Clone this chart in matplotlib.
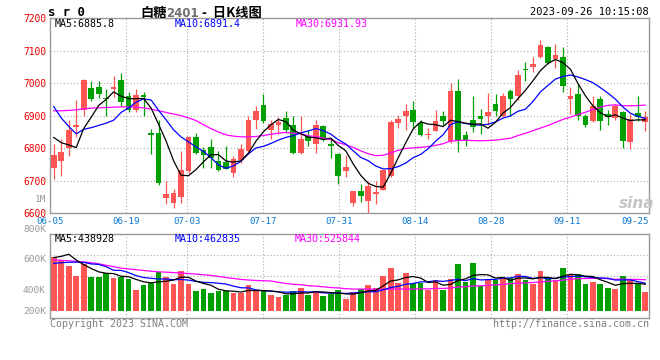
import numpy as np
import pandas as pd
import matplotlib
matplotlib.use("Agg")
import matplotlib.pyplot as plt
from matplotlib.transforms import blended_transform_factory

plt.rcParams['font.family'] = ['DejaVu Sans Mono', 'Noto Sans CJK SC']

# ---- data (sr0, 2023-06-05 .. 2023-09-26) ----
date_labels = ['06-05', '06-19', '07-03', '07-17', '07-31', '08-14', '08-28', '09-11', '09-25']
date_idx = [0, 10, 18, 28, 38, 48, 58, 68, 78]

opens = [6739, 6760, 6800, 6864, 6916, 6985, 6988, 6955, 6981, 7010,
         6961, 6916, 6964, 6847, 6847, 6647, 6633, 6650, 6729, 6835,
         6793, 6803, 6760, 6758, 6725, 6763, 6791, 6886, 6934, 6857,
         6872, 6893, 6872, 6784, 6839, 6814, 6869, 6814, 6781, 6730,
         6631, 6668, 6638, 6658, 6673, 6714, 6878, 6898, 6918, 6878,
         6842, 6852, 6900, 6821, 6977, 6842, 6888, 6898, 6898, 6937,
         6898, 6975, 6959, 7043, 7048, 7079, 7110, 7075, 7080, 6951,
         6966, 6900, 6885, 6952, 6905, 6893, 6911, 6818, 6908, 6881]
highs = [6814, 6827, 6888, 6949, 7012, 7005, 7007, 6982, 7022, 7031,
         6974, 6982, 6974, 6860, 6888, 6699, 6676, 6791, 6837, 6847,
         6804, 6827, 6791, 6806, 6776, 6814, 6900, 6929, 6966, 6888,
         6896, 6915, 6900, 6900, 6857, 6888, 6872, 6831, 6786, 6778,
         6668, 6689, 6699, 6699, 6733, 6888, 6903, 6937, 6944, 6888,
         6862, 6918, 6913, 7000, 7012, 6852, 6961, 6920, 6969, 6967,
         6969, 6983, 7041, 7064, 7079, 7133, 7114, 7120, 7112, 6988,
         6997, 6905, 6961, 6959, 6918, 6936, 6915, 6905, 6959, 6915]
lows = [6706, 6714, 6776, 6834, 6900, 6944, 6954, 6900, 6956, 6929,
        6910, 6910, 6900, 6781, 6686, 6628, 6617, 6633, 6725, 6781,
        6740, 6740, 6730, 6735, 6712, 6755, 6781, 6859, 6878, 6829,
        6845, 6847, 6781, 6783, 6808, 6784, 6821, 6770, 6689, 6712,
        6622, 6635, 6602, 6628, 6671, 6712, 6862, 6855, 6862, 6837,
        6827, 6852, 6872, 6816, 6788, 6807, 6849, 6845, 6872, 6900,
        6895, 6898, 6949, 7005, 7034, 7077, 7058, 7046, 6973, 6906,
        6888, 6864, 6881, 6857, 6871, 6888, 6801, 6799, 6885, 6852]
closes = [6778, 6787, 6857, 6872, 7008, 6952, 6967, 6951, 6987, 6941,
          6916, 6964, 6956, 6840, 6692, 6659, 6661, 6732, 6834, 6786,
          6778, 6770, 6733, 6737, 6768, 6799, 6888, 6915, 6883, 6875,
          6880, 6855, 6784, 6827, 6823, 6872, 6827, 6806, 6714, 6742,
          6668, 6653, 6684, 6665, 6732, 6880, 6891, 6913, 6880, 6842,
          6844, 6883, 6883, 6977, 6821, 6821, 6865, 6890, 6910, 6913,
          6961, 6951, 7026, 7039, 7059, 7117, 7061, 7087, 6990, 6959,
          6900, 6871, 6931, 6885, 6895, 6931, 6822, 6891, 6896, 6895]
# volume in thousands of lots
volumes = [618, 600, 562, 496, 571, 490, 490, 516, 483, 486,
           473, 402, 437, 448, 521, 490, 444, 530, 444, 397,
           411, 384, 397, 395, 384, 382, 437, 395, 393, 369,
           358, 369, 397, 417, 371, 397, 364, 375, 402, 343,
           389, 411, 435, 417, 496, 549, 446, 514, 450, 446,
           402, 468, 402, 477, 574, 457, 582, 428, 468, 468,
           479, 483, 508, 468, 440, 527, 483, 468, 549, 501,
           508, 442, 455, 442, 417, 411, 494, 468, 440, 389]

# moving-average values before enough bars are on screen
ma5_head = [6833, 6817, 6810, 6802]
ma10_head = [6928, 6893, 6867, 6844, 6858, 6863, 6870, 6877, 6886]
ma30_head = [6915, 6915, 6916, 6918, 6921, 6923, 6924, 6925, 6926, 6927,
             6927, 6926, 6924, 6920, 6915, 6910, 6905, 6900, 6893, 6885,
             6872, 6860, 6850, 6841, 6837, 6835, 6835, 6836, 6839]
vma5_head = [616, 624, 638, 600]
vma10_head = [578, 582, 585, 586, 584, 574, 571, 556, 532]
vma30_head = [600, 598, 595, 591, 587, 582, 575, 565, 556, 546,
              541, 536, 531, 526, 522, 520, 517, 514, 511, 507,
              503, 498, 492, 484, 478, 472, 468, 465, 463]

price_ticks = [6600, 6700, 6800, 6900, 7000, 7100, 7200]
vol_labels = ['1M', '800K', '600K', '400K', '200K']
vol_label_vals = [1000, 800, 600, 400, 263]

RED = '#ff5555'
GREEN = '#00a000'
GRID = '#aaaaaa'
FRAME = '#999999'


def moving_average(values, n, head):
    ma = pd.Series(values, dtype=float).rolling(n).mean().to_numpy()
    ma[:n - 1] = head
    return ma


def fx(px):
    return px / 660


def fy(py):
    return 1 - py / 360


x = np.arange(len(closes))
o = np.array(opens, dtype=float)
c = np.array(closes, dtype=float)
up = c >= o
colors = [RED if u else GREEN for u in up]

fig = plt.figure(figsize=(6.6, 3.6), dpi=100)
ax = fig.add_axes([fx(50), fy(213.3), 599 / 660, 195.3 / 360])
axv = fig.add_axes([fx(50), fy(318), 599 / 660, 84 / 360])

# date grid positions drift slightly in the original rendering
grid_pos = [i * 1.0152 - 0.5 for i in date_idx]

# ---- price panel ----
ax.set_xlim(-0.5, 79.5)
ax.set_ylim(6600, 7200)
for v in price_ticks[1:-1]:
    ax.axhline(v, color=GRID, lw=0.8, ls=(0, (1, 2)), zorder=0)
for gp in grid_pos[1:-1]:
    ax.axvline(gp, color=GRID, lw=0.8, ls=(0, (1, 2)), zorder=0)

ax.vlines(x, lows, highs, colors=colors, lw=0.9, zorder=2)
body_lo = np.minimum(o, c)
body_h = np.maximum(np.abs(c - o), 3)
ax.bar(x, body_h, bottom=body_lo, width=0.76, color=colors, lw=0, zorder=3)

ax.plot(x, moving_average(closes, 30, ma30_head), color='#ff00ff', lw=0.9, zorder=4)
ax.plot(x, moving_average(closes, 10, ma10_head), color='#0000ff', lw=0.9, zorder=4)
ax.plot(x, moving_average(closes, 5, ma5_head), color='black', lw=0.9, zorder=4)

ax.set_yticks(price_ticks)
ax.set_yticklabels([str(t) for t in price_ticks])
ax.tick_params(axis='y', length=0, pad=2.9, labelsize=6.9, labelcolor='#ee0000')
ax.set_xticks([])
for s in ax.spines.values():
    s.set_color(FRAME)
    s.set_linewidth(1)

trans = blended_transform_factory(ax.transData, fig.transFigure)
for lab, gp in zip(date_labels, grid_pos):
    if gp > 78:
        ax.text(79.5, fy(221.8), lab, transform=trans, ha='right', va='center',
                fontsize=6.6, color='#0a78d2')
    else:
        ax.text(gp, fy(221.8), lab, transform=trans, ha='center', va='center',
                fontsize=6.6, color='#0a78d2')

fig.text(fx(55), fy(24), 'MA5:6885.8', color='black', fontsize=7.2, va='center')
fig.text(fx(175), fy(24), 'MA10:6891.4', color='#0000ff', fontsize=7.2, va='center')
fig.text(fx(296), fy(24), 'MA30:6931.93', color='#ff00ff', fontsize=7.2, va='center')

fig.text(fx(619), fy(211), 'sina', color='#c4c4c4', fontsize=11, style='italic',
         weight='bold', family='DejaVu Sans', va='bottom')

# ---- volume panel ----
vol_lo = 600 - 58 * 6.6
vol_hi = 600 + 26 * 6.6
vol_base = 263.4
axv.set_xlim(-0.5, 79.5)
axv.set_ylim(vol_lo, vol_hi)
for f in [0.25, 0.5, 0.75]:
    axv.plot([0, 1], [f, f], transform=axv.transAxes, color=GRID, lw=0.8,
             ls=(0, (1, 2)), zorder=0)
for gp in grid_pos[1:-1]:
    axv.axvline(gp, color=GRID, lw=0.8, ls=(0, (1, 2)), zorder=0)

vol = np.array(volumes, dtype=float)
axv.bar(x, vol - vol_base, bottom=vol_base, width=0.76, color=colors, lw=0, zorder=2)
axv.plot(x, moving_average(volumes, 30, vma30_head), color='#ff00ff', lw=0.9, zorder=3)
axv.plot(x, moving_average(volumes, 10, vma10_head), color='#0000ff', lw=0.9, zorder=3)
axv.plot(x, moving_average(volumes, 5, vma5_head), color='black', lw=0.9, zorder=3)
axv.set_xticks([])
axv.set_yticks([])
for s in axv.spines.values():
    s.set_color(FRAME)
    s.set_linewidth(1)

vtrans = blended_transform_factory(axv.transAxes, axv.transData)
for lab, v in zip(vol_labels, vol_label_vals):
    axv.text(-4 / 599, v, lab, transform=vtrans, ha='right', va='center',
             fontsize=6.8, color='#999999', clip_on=False)

fig.text(fx(55), fy(239), 'MA5:438928', color='black', fontsize=7.2, va='center')
fig.text(fx(175), fy(239), 'MA10:462835', color='#0000ff', fontsize=7.2, va='center')
fig.text(fx(295), fy(239), 'MA30:525844', color='#ff00ff', fontsize=7.2, va='center')

# ---- header / footer ----
fig.text(fx(48), fy(12.5), 's r 0', fontsize=8.8, weight='bold', va='center')
t1 = fig.text(fx(140), fy(17), '白糖', fontsize=9.5, weight='bold',
              family=['Noto Sans CJK SC', 'DejaVu Sans'], va='baseline')
t2 = ax.annotate('2401', xy=(1, 0), xycoords=t1, va='bottom', fontsize=8.5,
                 weight='bold', color='#707070', family='DejaVu Sans',
                 annotation_clip=False)
ax.annotate(' -  日K线图', xy=(1, 0), xycoords=t2, va='bottom', fontsize=9.5,
            weight='bold', family=['Noto Sans CJK SC', 'DejaVu Sans'],
            annotation_clip=False)
fig.text(fx(649), fy(12), '2023-09-26 10:15:08', fontsize=7.5, ha='right', va='center')
fig.text(fx(50), fy(324), 'Copyright 2023 SINA.COM', fontsize=7.2, color='#808080',
         va='center')
fig.text(fx(649), fy(324), 'http://finance.sina.com.cn', fontsize=7.2, color='#808080',
         ha='right', va='center')

fig.savefig('out.png', dpi=100, facecolor='white')
